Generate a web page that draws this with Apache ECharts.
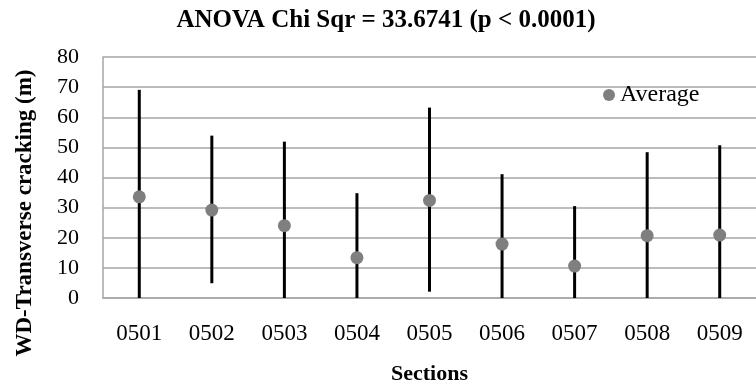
<!DOCTYPE html>
<html>
<head>
<meta charset="utf-8">
<script src="https://cdn.jsdelivr.net/npm/echarts@6/dist/echarts.min.js"></script>
<style>
html, body { margin: 0; padding: 0; background: #fff; }
#chart { width: 756px; height: 390px; }
</style>
</head>
<body>
<div id="chart"></div>
<script>
var sections = ['0501', '0502', '0503', '0504', '0505', '0506', '0507', '0508', '0509'];
var lowValues = [0, 4.9, 0, 0, 2.1, 0, 0, 0, 0];
var highValues = [69.1, 53.9, 51.9, 34.8, 63.2, 41.1, 30.5, 48.4, 50.7];
var averageValues = [33.6, 29.2, 24.0, 13.4, 32.4, 17.9, 10.6, 20.7, 20.9];

var serif = '"Liberation Serif", "DejaVu Serif", serif';
var rangeData = [];
for (var i = 0; i < sections.length; i++) {
	rangeData.push([i, lowValues[i], highValues[i]]);
}

var myChart = echarts.init(document.getElementById('chart'));
var option = {
	animation: false,
	title: {
		text: 'ANOVA Chi Sqr = 33.6741 (p < 0.0001)',
		left: 381,
		textAlign: 'center',
		top: 3,
		textStyle: {
			fontFamily: serif,
			fontSize: 25,
			fontWeight: 'bold',
			color: '#000'
		}
	},
	legend: {
		data: ['Average'],
		left: 598,
		top: 78,
		icon: 'circle',
		itemWidth: 12,
		itemHeight: 12,
		textStyle: {
			fontFamily: serif,
			fontSize: 24,
			color: '#000'
		}
	},
	// 纵轴标题，位置偏下
	graphic: [{
		type: 'text',
		x: 25,
		y: 213,
		rotation: Math.PI / 2,
		style: {
			text: 'WD-Transverse cracking (m)',
			fontFamily: serif,
			fontSize: 23,
			fontWeight: 'bold',
			fill: '#000',
			textAlign: 'center',
			textVerticalAlign: 'middle'
		}
	}],
	grid: {
		left: 103,
		right: -9,
		top: 57,
		bottom: 92
	},
	xAxis: {
		type: 'category',
		data: sections,
		name: 'Sections',
		nameLocation: 'middle',
		nameGap: 65,
		nameTextStyle: {
			fontFamily: serif,
			fontSize: 22,
			fontWeight: 'bold',
			color: '#000'
		},
		axisTick: { show: false },
		axisLine: { lineStyle: { color: '#a6a6a6', width: 1.5 } },
		axisLabel: {
			margin: 24,
			fontFamily: serif,
			fontSize: 23,
			color: '#000'
		}
	},
	yAxis: {
		type: 'value',
		min: 0,
		max: 80,
		interval: 10,
		axisLine: { show: true, lineStyle: { color: '#a6a6a6', width: 1.5 } },
		axisTick: { show: false },
		splitLine: { lineStyle: { color: '#a6a6a6', width: 1.5 } },
		axisLabel: {
			margin: 24,
			fontFamily: serif,
			fontSize: 22,
			color: '#000'
		}
	},
	series: [{
		name: 'Range',
		type: 'custom',
		data: rangeData,
		encode: { x: 0, y: [1, 2] },
		renderItem: function(params, api) {
			var p1 = api.coord([api.value(0), api.value(1)]);
			var p2 = api.coord([api.value(0), api.value(2)]);
			return {
				type: 'line',
				shape: { x1: p1[0], y1: p1[1], x2: p2[0], y2: p2[1] },
				style: { stroke: '#000', lineWidth: 3 }
			};
		},
		z: 2
	}, {
		name: 'Average',
		type: 'scatter',
		data: averageValues,
		symbolSize: 13,
		itemStyle: { color: '#7f7f7f', opacity: 1 },
		z: 3
	}]
};
myChart.setOption(option);
</script>
</body>
</html>
